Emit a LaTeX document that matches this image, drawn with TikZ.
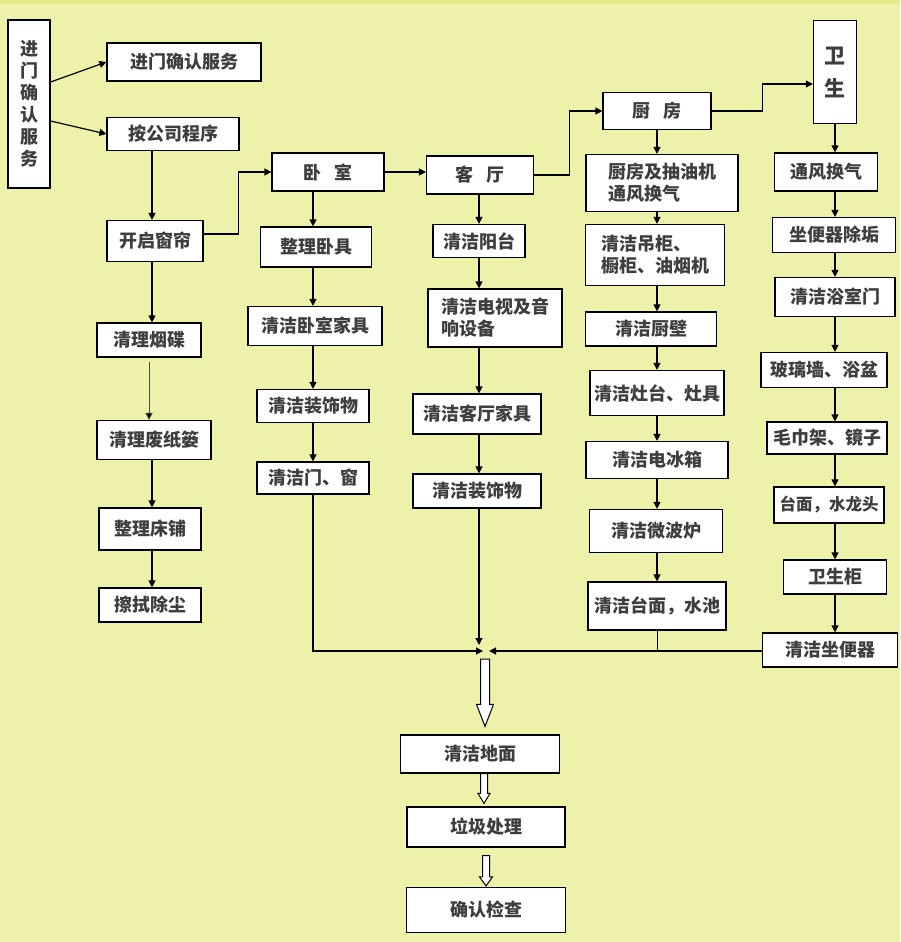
\documentclass[tikz,border=0pt]{standalone}
\usepackage{fontspec}
\setmainfont{Noto Sans CJK SC}
\usepackage{tikz}
\usetikzlibrary{arrows.meta,calc,backgrounds}
\definecolor{bgyellow}{RGB}{238,241,170}
\definecolor{bandyellow}{RGB}{229,233,140}
\definecolor{txtgray}{RGB}{62,62,62}
\newcommand{\boxfont}{\fontsize{18}{22}\selectfont\bfseries}
\newcommand{\fatarrow}[5]{%
  \draw[fill=white,line width=1pt,line join=miter] let \p1=(#1), \p2=(#2) in
    (\x1-#3,\y1) -- (\x1+#3,\y1) -- (\x1+#3,\y2+#5) -- (\x1+#4,\y2+#5) -- (\x1,\y2)
    -- (\x1-#4,\y2+#5) -- (\x1-#3,\y2+#5) -- cycle;}
\tikzset{
  box/.style={draw=black,fill=white,line width=1.2pt,inner sep=0pt,font=\boxfont,
    text=txtgray,align=center},
  wh/.style 2 args={minimum width=#1,minimum height=#2},
  flow/.style={->,line width=1.2pt},
  thinflow/.style={-{Triangle[length=7pt,width=7pt,fill=black]},line width=0.6pt,draw=black!70}
}
\begin{document}
\begin{tikzpicture}[x=1pt,y=-1pt,>={Triangle[length=7pt,width=7pt]}]
\fill[bgyellow] (0,0) rectangle (900,942);
\fill[bandyellow] (0,0) rectangle (900,4);
\useasboundingbox (0,0) rectangle (900,942);

% start
\node[box,wh={42}{168}] (entry) at (29,104) {进\\门\\确\\认\\服\\务};
\node[box,wh={154}{38}] (confirm) at (184,62) {进门确认服务};
\node[box,wh={132}{33}] (follow) at (173,134) {按公司程序};
\node[box,wh={96}{41}] (curtain) at (155,241) {开启窗帘};
\node[box,wh={104}{34}] (ashtray) at (149,340) {清理烟碟};
\node[box,wh={114}{39}] (basket) at (154,440) {清理废纸篓};
\node[box,wh={102}{42}] (bed) at (150,529) {整理床铺};
\node[box,wh={102}{34}] (dust) at (150,605) {擦拭除尘};

% bedroom
\node[box,wh={112}{38}] (bedroom) at (328,172) {卧\hspace{0.7em}室};
\node[box,wh={111}{40}] (bedding) at (316,247) {整理卧具};
\node[box,wh={134}{39}] (bedfurn) at (315,326) {清洁卧室家具};
\node[box,wh={112}{33}] (beddeco) at (313,406) {清洁装饰物};
\node[box,wh={112}{32}] (doorwin) at (313,478) {清洁门、窗};

% living room
\node[box,wh={107}{38}] (living) at (480,175) {客\hspace{0.7em}厅};
\node[box,wh={92}{33}] (balcony) at (479,241) {清洁阳台};
\node[box,wh={134}{58},align=left] (tv) at (495,318) {清洁电视及音\\响设备};
\node[box,wh={128}{40}] (livfurn) at (477,414) {清洁客厅家具};
\node[box,wh={128}{34}] (livdeco) at (477,491) {清洁装饰物};

% kitchen
\node[box,wh={108}{37}] (kitchen) at (657,111) {厨\hspace{0.7em}房};
\node[box,wh={152}{57},align=left] (vent) at (662,183) {厨房及抽油机\\通风换气};
\node[box,wh={139}{61},align=left] (cabinet) at (655,255) {清洁吊柜、\\橱柜、油烟机};
\node[box,wh={131}{34}] (wall) at (651,329) {清洁厨壁};
\node[box,wh={134}{45}] (stove) at (657,393) {清洁灶台、灶具};
\node[box,wh={142}{37}] (fridge) at (657,460) {清洁电冰箱};
\node[box,wh={133}{43}] (microwave) at (656,531) {清洁微波炉};
\node[box,wh={138}{48}] (sink) at (657,606) {清洁台面，水池};

% bathroom
\node[box,wh={43}{103},font=\fontsize{21}{33}\selectfont\bfseries] (bath) at (835,72) {卫\\生};
\node[box,wh={103}{38}] (bvent) at (826,172) {通风换气};
\node[box,wh={123}{35}] (toilet) at (834,235) {坐便器除垢};
\node[box,wh={120}{39}] (door) at (835,297) {清洁浴室门};
\node[box,wh={126}{35}] (glass) at (824,370) {玻璃墙、浴盆};
\node[box,wh={120}{32}] (towel) at (827,438) {毛巾架、镜子};
\node[box,wh={110}{36},font=\fontsize{16.5}{20}\selectfont\bfseries] (tap) at (829,505) {台面，水龙头};
\node[box,wh={103}{34}] (cab) at (835,577) {卫生柜};
\node[box,wh={135}{34}] (seat) at (830,650) {清洁坐便器};

% finish
\node[box,wh={159}{38}] (floor) at (480,754) {清洁地面};
\node[box,wh={158}{40}] (trash) at (486,827) {垃圾处理};
\node[box,wh={159}{45}] (check) at (486,910) {确认检查};

\coordinate (join) at (484,651);
\coordinate (lcol) at (152,0);
\coordinate (bcol) at (313,0);
\coordinate (vcol) at (479,0);
\coordinate (kcol) at (657,0);

\draw[flow] ([yshift=22pt]entry.east) -- (confirm.west);
\draw[flow] ([yshift=-17pt]entry.east) -- (follow.west);
\draw[flow] (lcol |- follow.south) -- (lcol |- curtain.north);
\draw[flow] ([yshift=7pt]curtain.east) -- ++(35,0) |- (bedroom.west);
\draw[flow] (bedroom.east) -- (bedroom.east -| living.west);
\draw[flow] (living.east) -- ++(35,0) |- (kitchen.west);
\draw[flow] (kitchen.east) -- ++(51,0) |- ([yshift=-12pt]bath.west);

\draw[flow] (lcol |- curtain.south) -- (lcol |- ashtray.north);
\draw[thinflow] ([yshift=-4pt]ashtray.south) -- (ashtray.south |- basket.north);
\foreach \a/\b in {basket/bed,bed/dust}
  \draw[flow] (lcol |- \a.south) -- (lcol |- \b.north);
\foreach \a/\b in {bedroom/bedding,bedding/bedfurn,bedfurn/beddeco,beddeco/doorwin}
  \draw[flow] (bcol |- \a.south) -- (bcol |- \b.north);
\foreach \a/\b in {living/balcony,balcony/tv,tv/livfurn,livfurn/livdeco}
  \draw[flow] (vcol |- \a.south) -- (vcol |- \b.north);
\foreach \a/\b in {kitchen/vent,vent/cabinet,cabinet/wall,wall/stove,stove/fridge,fridge/microwave,microwave/sink}
  \draw[flow] (kcol |- \a.south) -- (kcol |- \b.north);
\foreach \a/\b in {bath/bvent,bvent/toilet,toilet/door,door/glass,glass/towel,towel/tap,tap/cab,cab/seat}
  \draw[flow] (bath.south |- \a.south) -- (bath.south |- \b.north);

\draw[flow] (doorwin.south) |- ([xshift=-1pt]join);
\draw[flow] (vcol |- livdeco.south) -- ([yshift=6pt]vcol |- join);
\draw[line width=0.6pt] (sink.south) -- (sink.south |- join);
\draw[flow] (seat.west |- join) -- ([xshift=5pt]join);

\fatarrow{[xshift=1pt,yshift=-8pt]join}{[yshift=8pt]floor.north}{4.5pt}{8.5pt}{22pt}
\fatarrow{[xshift=4pt]floor.south}{[yshift=3pt]trash.north}{3.5pt}{6pt}{10pt}
\fatarrow{[yshift=-8pt]trash.south}{[yshift=1pt]check.north}{3.5pt}{6.5pt}{9pt}
\end{tikzpicture}
\end{document}
